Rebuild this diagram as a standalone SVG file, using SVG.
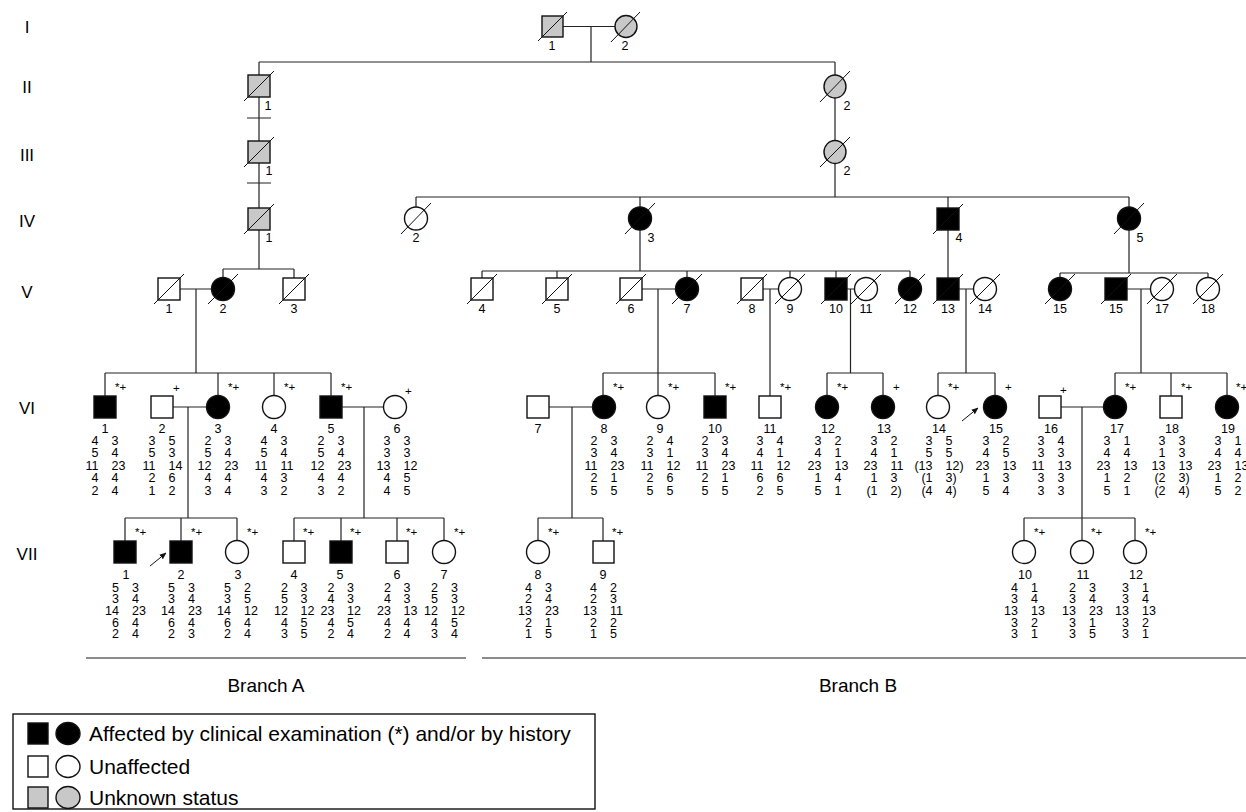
<svg xmlns="http://www.w3.org/2000/svg" width="1246" height="812" viewBox="0 0 1246 812">
<style>
.s{stroke:#111;stroke-width:1.4}
.w{fill:#fff}
.b{fill:#000}
.g{fill:#c8c8c8}
.c{stroke:#222;stroke-width:1.2;fill:none}
.d{stroke:#111;stroke-width:1}
.br{stroke:#666;stroke-width:1.4}
text{font-family:"Liberation Sans",Arial,Helvetica,sans-serif;fill:#000}
.lb{font-size:12.5px;text-anchor:middle}
.n{font-size:12.5px}
.L{text-anchor:end}
.m{font-size:11.5px}
.gen{font-size:17px;text-anchor:middle}
.leg{font-size:21px}
.bt{font-size:19px;text-anchor:middle}
</style>
<defs>
<marker id="ah" viewBox="0 0 10 10" refX="9" refY="5" markerWidth="7" markerHeight="7" orient="auto" markerUnits="userSpaceOnUse"><path d="M0,1 L10,5 L0,9 z" fill="#111"/></marker>
</defs>
<g id="generations">
<text class="gen" x="27" y="33">I</text>
<text class="gen" x="27" y="93">II</text>
<text class="gen" x="27" y="161">III</text>
<text class="gen" x="27" y="227">IV</text>
<text class="gen" x="27" y="298">V</text>
<text class="gen" x="27" y="414">VI</text>
<text class="gen" x="27" y="560">VII</text>
</g>
<g id="connectors">
<path class="c" d="M563,26.5H615M591,26.5V62M259,62H835M259,62V75M835,62V75"/>
<path class="c" d="M259,97V141M247,118H271M835,98V140.5"/>
<path class="c" d="M259,163V208M247,183H271M835,163.5V197M416,197H1129M416,197V207M640,197V207M948,197V208M1129,197V207"/>
<path class="c" d="M259,230V269M223,269H294M223,269V277.5M294,269V278"/>
<path class="c" d="M640,230V271M482,271H910M482,271V278M557,271V278M687,271V277.5M790,271V277.5M836,271V278M910,271V277.5"/>
<path class="c" d="M948,230V278M1129,230V273M1060,273H1208M1060,273V277.5M1208,273V277.5"/>
<path class="c" d="M180,289H211.5M196,289V373M105,373H331M105,373V396M218,373V395.5M274,373V395.5M331,373V396"/>
<path class="c" d="M642,289H675.5M658,289V395.5M603,373H715M603,373V395.5M715,373V396"/>
<path class="c" d="M763,289H778.5M770,289V396"/>
<path class="c" d="M847,289H854.5M850.5,289V373M827,373H883M827,373V395.5M883,373V395.5"/>
<path class="c" d="M959,289H973.5M966,289V373M938,373H995M938,373V395.5M995,373V395.5"/>
<path class="c" d="M1127,289H1150.5M1141,289V373M1115,373H1227M1115,373V395.5M1171,373V396M1227,373V395.5"/>
<path class="c" d="M173,407H206.5M188,407V518M125,518H237M125,518V541M181,518V541M237,518V540.5"/>
<path class="c" d="M342,407H383.5M364,407V518M294,518H444M294,518V541M341,518V541M397,518V541M444,518V540.5"/>
<path class="c" d="M549,407H592.5M572,407V518M538,518H603M538,518V540.5M603,518V541"/>
<path class="c" d="M1061,407H1103.5M1082,407V518M1024,518H1135M1024,518V540.5M1082,518V540.5M1135,518V540.5"/>
<line class="d" x1="150" y1="566" x2="166" y2="553" marker-end="url(#ah)"/>
<line class="d" x1="962" y1="421" x2="978" y2="408" marker-end="url(#ah)"/>
</g>
<g id="I-1"><rect class="s g" x="542" y="16" width="21" height="21"/><line class="d" x1="538" y1="41" x2="567" y2="12"/><text class="lb" x="552" y="49.5">1</text></g>
<g id="I-2"><ellipse class="s g" cx="626" cy="26.5" rx="11" ry="11"/><line class="d" x1="611" y1="42" x2="640" y2="12"/><text class="lb" x="625" y="49.5">2</text></g>
<g id="II-1"><rect class="s g" x="248" y="75" width="22" height="22"/><line class="d" x1="244" y1="101" x2="274" y2="71"/><text class="lb" x="268" y="109.5">1</text></g>
<g id="II-2"><ellipse class="s g" cx="835" cy="86.5" rx="11" ry="11.5"/><line class="d" x1="820" y1="102" x2="850" y2="71"/><text class="lb" x="847" y="109.5">2</text></g>
<g id="III-1"><rect class="s g" x="248" y="141" width="22" height="22"/><line class="d" x1="244" y1="167" x2="274" y2="137"/><text class="lb" x="269" y="174.5">1</text></g>
<g id="III-2"><ellipse class="s g" cx="835" cy="152" rx="11" ry="11.5"/><line class="d" x1="820" y1="167" x2="850" y2="137"/><text class="lb" x="847" y="174.5">2</text></g>
<g id="IV-1"><rect class="s g" x="248" y="208" width="22" height="22"/><line class="d" x1="244" y1="234" x2="274" y2="204"/><text class="lb" x="269" y="241.5">1</text></g>
<g id="IV-2"><ellipse class="s w" cx="416" cy="218.5" rx="11.5" ry="11.5"/><line class="d" x1="401" y1="234" x2="431" y2="203"/><text class="lb" x="416" y="241.5">2</text></g>
<g id="IV-3"><ellipse class="s b" cx="640" cy="218.5" rx="11.5" ry="11.5"/><line class="d" x1="625" y1="234" x2="655" y2="203"/><text class="lb" x="651" y="241.5">3</text></g>
<g id="IV-4"><rect class="s b" x="937" y="208" width="22" height="22"/><line class="d" x1="933" y1="234" x2="963" y2="204"/><text class="lb" x="959" y="241.5">4</text></g>
<g id="IV-5"><ellipse class="s b" cx="1129" cy="218.5" rx="11.5" ry="11.5"/><line class="d" x1="1114" y1="234" x2="1144" y2="203"/><text class="lb" x="1140" y="241.5">5</text></g>
<g id="V-1"><rect class="s w" x="158" y="278" width="22" height="22"/><line class="d" x1="154" y1="304" x2="184" y2="274"/><text class="lb" x="169" y="312.5">1</text></g>
<g id="V-2"><ellipse class="s b" cx="223" cy="289" rx="11.5" ry="11.5"/><line class="d" x1="208" y1="304" x2="238" y2="274"/><text class="lb" x="223" y="312.5">2</text></g>
<g id="V-3"><rect class="s w" x="283" y="278" width="22" height="22"/><line class="d" x1="279" y1="304" x2="309" y2="274"/><text class="lb" x="294" y="312.5">3</text></g>
<g id="V-4"><rect class="s w" x="471" y="278" width="22" height="22"/><line class="d" x1="467" y1="304" x2="497" y2="274"/><text class="lb" x="482" y="312.5">4</text></g>
<g id="V-5"><rect class="s w" x="546" y="278" width="22" height="22"/><line class="d" x1="542" y1="304" x2="572" y2="274"/><text class="lb" x="557" y="312.5">5</text></g>
<g id="V-6"><rect class="s w" x="620" y="278" width="22" height="22"/><line class="d" x1="616" y1="304" x2="646" y2="274"/><text class="lb" x="631" y="312.5">6</text></g>
<g id="V-7"><ellipse class="s b" cx="687" cy="289" rx="11.5" ry="11.5"/><line class="d" x1="672" y1="304" x2="702" y2="274"/><text class="lb" x="687" y="312.5">7</text></g>
<g id="V-8"><rect class="s w" x="741" y="278" width="22" height="22"/><line class="d" x1="737" y1="304" x2="767" y2="274"/><text class="lb" x="752" y="312.5">8</text></g>
<g id="V-9"><ellipse class="s w" cx="790" cy="289" rx="11.5" ry="11.5"/><line class="d" x1="775" y1="304" x2="805" y2="274"/><text class="lb" x="790" y="312.5">9</text></g>
<g id="V-10"><rect class="s b" x="825" y="278" width="22" height="22"/><line class="d" x1="821" y1="304" x2="851" y2="274"/><text class="lb" x="836" y="312.5">10</text></g>
<g id="V-11"><ellipse class="s w" cx="866" cy="289" rx="11.5" ry="11.5"/><line class="d" x1="851" y1="304" x2="881" y2="274"/><text class="lb" x="866" y="312.5">11</text></g>
<g id="V-12"><ellipse class="s b" cx="910" cy="289" rx="11.5" ry="11.5"/><line class="d" x1="895" y1="304" x2="925" y2="274"/><text class="lb" x="910" y="312.5">12</text></g>
<g id="V-13"><rect class="s b" x="937" y="278" width="22" height="22"/><line class="d" x1="933" y1="304" x2="963" y2="274"/><text class="lb" x="948" y="312.5">13</text></g>
<g id="V-14"><ellipse class="s w" cx="985" cy="289" rx="11.5" ry="11.5"/><line class="d" x1="970" y1="304" x2="1000" y2="274"/><text class="lb" x="985" y="312.5">14</text></g>
<g id="V-15a"><ellipse class="s b" cx="1060" cy="289" rx="11.5" ry="11.5"/><line class="d" x1="1045" y1="304" x2="1075" y2="274"/><text class="lb" x="1060" y="312.5">15</text></g>
<g id="V-15b"><rect class="s b" x="1105" y="278" width="22" height="22"/><line class="d" x1="1101" y1="304" x2="1131" y2="274"/><text class="lb" x="1116" y="312.5">15</text></g>
<g id="V-17"><ellipse class="s w" cx="1162" cy="289" rx="11.5" ry="11.5"/><line class="d" x1="1147" y1="304" x2="1177" y2="274"/><text class="lb" x="1162" y="312.5">17</text></g>
<g id="V-18"><ellipse class="s w" cx="1208" cy="289" rx="11.5" ry="11.5"/><line class="d" x1="1193" y1="304" x2="1223" y2="274"/><text class="lb" x="1208" y="312.5">18</text></g>
<g id="VI-1"><rect class="s b" x="94" y="396" width="22" height="22"/><text class="m" x="115" y="391">*+</text><text class="lb" x="105" y="432.5">1</text><text class="n L" y="444.5"><tspan x="98.5">4</tspan><tspan x="98.5" dy="12.5">5</tspan><tspan x="98.5" dy="12.5">11</tspan><tspan x="98.5" dy="12.5">4</tspan><tspan x="98.5" dy="12.5">2</tspan></text><text class="n" y="444.5"><tspan x="111.5">3</tspan><tspan x="111.5" dy="12.5">4</tspan><tspan x="111.5" dy="12.5">23</tspan><tspan x="111.5" dy="12.5">4</tspan><tspan x="111.5" dy="12.5">4</tspan></text></g>
<g id="VI-2"><rect class="s w" x="151" y="396" width="22" height="22"/><text class="m" x="173" y="392">+</text><text class="lb" x="162" y="432.5">2</text><text class="n L" y="444.5"><tspan x="155.5">3</tspan><tspan x="155.5" dy="12.5">5</tspan><tspan x="155.5" dy="12.5">11</tspan><tspan x="155.5" dy="12.5">2</tspan><tspan x="155.5" dy="12.5">1</tspan></text><text class="n" y="444.5"><tspan x="168.5">5</tspan><tspan x="168.5" dy="12.5">3</tspan><tspan x="168.5" dy="12.5">14</tspan><tspan x="168.5" dy="12.5">6</tspan><tspan x="168.5" dy="12.5">2</tspan></text></g>
<g id="VI-3"><ellipse class="s b" cx="218" cy="407" rx="11.5" ry="11.5"/><text class="m" x="228" y="391">*+</text><text class="lb" x="218" y="432.5">3</text><text class="n L" y="444.5"><tspan x="211.5">2</tspan><tspan x="211.5" dy="12.5">5</tspan><tspan x="211.5" dy="12.5">12</tspan><tspan x="211.5" dy="12.5">4</tspan><tspan x="211.5" dy="12.5">3</tspan></text><text class="n" y="444.5"><tspan x="224.5">3</tspan><tspan x="224.5" dy="12.5">4</tspan><tspan x="224.5" dy="12.5">23</tspan><tspan x="224.5" dy="12.5">4</tspan><tspan x="224.5" dy="12.5">4</tspan></text></g>
<g id="VI-4"><ellipse class="s w" cx="274" cy="407" rx="11.5" ry="11.5"/><text class="m" x="284" y="391">*+</text><text class="lb" x="274" y="432.5">4</text><text class="n L" y="444.5"><tspan x="267.5">4</tspan><tspan x="267.5" dy="12.5">5</tspan><tspan x="267.5" dy="12.5">11</tspan><tspan x="267.5" dy="12.5">4</tspan><tspan x="267.5" dy="12.5">3</tspan></text><text class="n" y="444.5"><tspan x="280.5">3</tspan><tspan x="280.5" dy="12.5">4</tspan><tspan x="280.5" dy="12.5">11</tspan><tspan x="280.5" dy="12.5">3</tspan><tspan x="280.5" dy="12.5">2</tspan></text></g>
<g id="VI-5"><rect class="s b" x="320" y="396" width="22" height="22"/><text class="m" x="341" y="391">*+</text><text class="lb" x="331" y="432.5">5</text><text class="n L" y="444.5"><tspan x="324.5">2</tspan><tspan x="324.5" dy="12.5">5</tspan><tspan x="324.5" dy="12.5">12</tspan><tspan x="324.5" dy="12.5">4</tspan><tspan x="324.5" dy="12.5">3</tspan></text><text class="n" y="444.5"><tspan x="337.5">3</tspan><tspan x="337.5" dy="12.5">4</tspan><tspan x="337.5" dy="12.5">23</tspan><tspan x="337.5" dy="12.5">4</tspan><tspan x="337.5" dy="12.5">2</tspan></text></g>
<g id="VI-6"><ellipse class="s w" cx="395" cy="407" rx="11.5" ry="11.5"/><text class="m" x="405" y="395">+</text><text class="lb" x="397" y="432.5">6</text><text class="n L" y="444.5"><tspan x="390.5">3</tspan><tspan x="390.5" dy="12.5">3</tspan><tspan x="390.5" dy="12.5">13</tspan><tspan x="390.5" dy="12.5">4</tspan><tspan x="390.5" dy="12.5">4</tspan></text><text class="n" y="444.5"><tspan x="403.5">3</tspan><tspan x="403.5" dy="12.5">3</tspan><tspan x="403.5" dy="12.5">12</tspan><tspan x="403.5" dy="12.5">5</tspan><tspan x="403.5" dy="12.5">5</tspan></text></g>
<g id="VI-7"><rect class="s w" x="527" y="396" width="22" height="22"/><text class="lb" x="538" y="432.5">7</text></g>
<g id="VI-8"><ellipse class="s b" cx="604" cy="407" rx="11.5" ry="11.5"/><text class="m" x="613" y="391">*+</text><text class="lb" x="604" y="432.5">8</text><text class="n L" y="444.5"><tspan x="597.5">2</tspan><tspan x="597.5" dy="12.5">3</tspan><tspan x="597.5" dy="12.5">11</tspan><tspan x="597.5" dy="12.5">2</tspan><tspan x="597.5" dy="12.5">5</tspan></text><text class="n" y="444.5"><tspan x="610.5">3</tspan><tspan x="610.5" dy="12.5">4</tspan><tspan x="610.5" dy="12.5">23</tspan><tspan x="610.5" dy="12.5">1</tspan><tspan x="610.5" dy="12.5">5</tspan></text></g>
<g id="VI-9"><ellipse class="s w" cx="658" cy="407" rx="11.5" ry="11.5"/><text class="m" x="668" y="391">*+</text><text class="lb" x="660" y="432.5">9</text><text class="n L" y="444.5"><tspan x="653.5">2</tspan><tspan x="653.5" dy="12.5">3</tspan><tspan x="653.5" dy="12.5">11</tspan><tspan x="653.5" dy="12.5">2</tspan><tspan x="653.5" dy="12.5">5</tspan></text><text class="n" y="444.5"><tspan x="666.5">4</tspan><tspan x="666.5" dy="12.5">1</tspan><tspan x="666.5" dy="12.5">12</tspan><tspan x="666.5" dy="12.5">6</tspan><tspan x="666.5" dy="12.5">5</tspan></text></g>
<g id="VI-10"><rect class="s b" x="704" y="396" width="22" height="22"/><text class="m" x="725" y="391">*+</text><text class="lb" x="715" y="432.5">10</text><text class="n L" y="444.5"><tspan x="708.5">2</tspan><tspan x="708.5" dy="12.5">3</tspan><tspan x="708.5" dy="12.5">11</tspan><tspan x="708.5" dy="12.5">2</tspan><tspan x="708.5" dy="12.5">5</tspan></text><text class="n" y="444.5"><tspan x="721.5">3</tspan><tspan x="721.5" dy="12.5">4</tspan><tspan x="721.5" dy="12.5">23</tspan><tspan x="721.5" dy="12.5">1</tspan><tspan x="721.5" dy="12.5">5</tspan></text></g>
<g id="VI-11"><rect class="s w" x="759" y="396" width="22" height="22"/><text class="m" x="780" y="391">*+</text><text class="lb" x="770" y="432.5">11</text><text class="n L" y="444.5"><tspan x="763.5">3</tspan><tspan x="763.5" dy="12.5">4</tspan><tspan x="763.5" dy="12.5">11</tspan><tspan x="763.5" dy="12.5">6</tspan><tspan x="763.5" dy="12.5">2</tspan></text><text class="n" y="444.5"><tspan x="776.5">4</tspan><tspan x="776.5" dy="12.5">1</tspan><tspan x="776.5" dy="12.5">12</tspan><tspan x="776.5" dy="12.5">6</tspan><tspan x="776.5" dy="12.5">5</tspan></text></g>
<g id="VI-12"><ellipse class="s b" cx="827" cy="407" rx="11.5" ry="11.5"/><text class="m" x="837" y="391">*+</text><text class="lb" x="828" y="432.5">12</text><text class="n L" y="444.5"><tspan x="821.5">3</tspan><tspan x="821.5" dy="12.5">4</tspan><tspan x="821.5" dy="12.5">23</tspan><tspan x="821.5" dy="12.5">1</tspan><tspan x="821.5" dy="12.5">5</tspan></text><text class="n" y="444.5"><tspan x="834.5">2</tspan><tspan x="834.5" dy="12.5">1</tspan><tspan x="834.5" dy="12.5">13</tspan><tspan x="834.5" dy="12.5">4</tspan><tspan x="834.5" dy="12.5">1</tspan></text></g>
<g id="VI-13"><ellipse class="s b" cx="883" cy="407" rx="11.5" ry="11.5"/><text class="m" x="893" y="391">+</text><text class="lb" x="884" y="432.5">13</text><text class="n L" y="444.5"><tspan x="877.5">3</tspan><tspan x="877.5" dy="12.5">4</tspan><tspan x="877.5" dy="12.5">23</tspan><tspan x="877.5" dy="12.5">1</tspan><tspan x="877.5" dy="12.5">(1</tspan></text><text class="n" y="444.5"><tspan x="890.5">2</tspan><tspan x="890.5" dy="12.5">1</tspan><tspan x="890.5" dy="12.5">11</tspan><tspan x="890.5" dy="12.5">3</tspan><tspan x="890.5" dy="12.5">2)</tspan></text></g>
<g id="VI-14"><ellipse class="s w" cx="938" cy="407" rx="11.5" ry="11.5"/><text class="m" x="948" y="391">*+</text><text class="lb" x="939" y="432.5">14</text><text class="n L" y="444.5"><tspan x="932.5">3</tspan><tspan x="932.5" dy="12.5">5</tspan><tspan x="932.5" dy="12.5">(13</tspan><tspan x="932.5" dy="12.5">(1</tspan><tspan x="932.5" dy="12.5">(4</tspan></text><text class="n" y="444.5"><tspan x="945.5">5</tspan><tspan x="945.5" dy="12.5">5</tspan><tspan x="945.5" dy="12.5">12)</tspan><tspan x="945.5" dy="12.5">3)</tspan><tspan x="945.5" dy="12.5">4)</tspan></text></g>
<g id="VI-15"><ellipse class="s b" cx="995" cy="407" rx="11.5" ry="11.5"/><text class="m" x="1005" y="391">+</text><text class="lb" x="996" y="432.5">15</text><text class="n L" y="444.5"><tspan x="989.5">3</tspan><tspan x="989.5" dy="12.5">4</tspan><tspan x="989.5" dy="12.5">23</tspan><tspan x="989.5" dy="12.5">1</tspan><tspan x="989.5" dy="12.5">5</tspan></text><text class="n" y="444.5"><tspan x="1002.5">2</tspan><tspan x="1002.5" dy="12.5">5</tspan><tspan x="1002.5" dy="12.5">13</tspan><tspan x="1002.5" dy="12.5">3</tspan><tspan x="1002.5" dy="12.5">4</tspan></text></g>
<g id="VI-16"><rect class="s w" x="1039" y="396" width="22" height="22"/><text class="m" x="1060" y="394">+</text><text class="lb" x="1051" y="432.5">16</text><text class="n L" y="444.5"><tspan x="1044.5">3</tspan><tspan x="1044.5" dy="12.5">3</tspan><tspan x="1044.5" dy="12.5">11</tspan><tspan x="1044.5" dy="12.5">3</tspan><tspan x="1044.5" dy="12.5">3</tspan></text><text class="n" y="444.5"><tspan x="1057.5">4</tspan><tspan x="1057.5" dy="12.5">3</tspan><tspan x="1057.5" dy="12.5">13</tspan><tspan x="1057.5" dy="12.5">3</tspan><tspan x="1057.5" dy="12.5">3</tspan></text></g>
<g id="VI-17"><ellipse class="s b" cx="1115" cy="407" rx="11.5" ry="11.5"/><text class="m" x="1125" y="391">*+</text><text class="lb" x="1117" y="432.5">17</text><text class="n L" y="444.5"><tspan x="1110.5">3</tspan><tspan x="1110.5" dy="12.5">4</tspan><tspan x="1110.5" dy="12.5">23</tspan><tspan x="1110.5" dy="12.5">1</tspan><tspan x="1110.5" dy="12.5">5</tspan></text><text class="n" y="444.5"><tspan x="1123.5">1</tspan><tspan x="1123.5" dy="12.5">4</tspan><tspan x="1123.5" dy="12.5">13</tspan><tspan x="1123.5" dy="12.5">2</tspan><tspan x="1123.5" dy="12.5">1</tspan></text></g>
<g id="VI-18"><rect class="s w" x="1160" y="396" width="22" height="22"/><text class="m" x="1181" y="391">*+</text><text class="lb" x="1172" y="432.5">18</text><text class="n L" y="444.5"><tspan x="1165.5">3</tspan><tspan x="1165.5" dy="12.5">1</tspan><tspan x="1165.5" dy="12.5">13</tspan><tspan x="1165.5" dy="12.5">(2</tspan><tspan x="1165.5" dy="12.5">(2</tspan></text><text class="n" y="444.5"><tspan x="1178.5">3</tspan><tspan x="1178.5" dy="12.5">3</tspan><tspan x="1178.5" dy="12.5">13</tspan><tspan x="1178.5" dy="12.5">3)</tspan><tspan x="1178.5" dy="12.5">4)</tspan></text></g>
<g id="VI-19"><ellipse class="s b" cx="1227" cy="407" rx="11.5" ry="11.5"/><text class="m" x="1236" y="391">*+</text><text class="lb" x="1228" y="432.5">19</text><text class="n L" y="444.5"><tspan x="1221.5">3</tspan><tspan x="1221.5" dy="12.5">4</tspan><tspan x="1221.5" dy="12.5">23</tspan><tspan x="1221.5" dy="12.5">1</tspan><tspan x="1221.5" dy="12.5">5</tspan></text><text class="n" y="444.5"><tspan x="1234.5">1</tspan><tspan x="1234.5" dy="12.5">4</tspan><tspan x="1234.5" dy="12.5">13</tspan><tspan x="1234.5" dy="12.5">2</tspan><tspan x="1234.5" dy="12.5">2</tspan></text></g>
<g id="VII-1"><rect class="s b" x="114" y="541" width="22" height="22"/><text class="m" x="135" y="536">*+</text><text class="lb" x="126" y="578.5">1</text><text class="n L" y="591.5"><tspan x="119">5</tspan><tspan x="119" dy="11.7">3</tspan><tspan x="119" dy="11.7">14</tspan><tspan x="119" dy="11.7">6</tspan><tspan x="119" dy="11.7">2</tspan></text><text class="n" y="591.5"><tspan x="132">3</tspan><tspan x="132" dy="11.7">4</tspan><tspan x="132" dy="11.7">23</tspan><tspan x="132" dy="11.7">4</tspan><tspan x="132" dy="11.7">4</tspan></text></g>
<g id="VII-2"><rect class="s b" x="170" y="541" width="22" height="22"/><text class="m" x="191" y="536">*+</text><text class="lb" x="181" y="578.5">2</text><text class="n L" y="591.5"><tspan x="175">5</tspan><tspan x="175" dy="11.7">3</tspan><tspan x="175" dy="11.7">14</tspan><tspan x="175" dy="11.7">6</tspan><tspan x="175" dy="11.7">2</tspan></text><text class="n" y="591.5"><tspan x="188">3</tspan><tspan x="188" dy="11.7">4</tspan><tspan x="188" dy="11.7">23</tspan><tspan x="188" dy="11.7">4</tspan><tspan x="188" dy="11.7">3</tspan></text></g>
<g id="VII-3"><ellipse class="s w" cx="237" cy="552" rx="11.5" ry="11.5"/><text class="m" x="247" y="536">*+</text><text class="lb" x="238" y="578.5">3</text><text class="n L" y="591.5"><tspan x="231">5</tspan><tspan x="231" dy="11.7">3</tspan><tspan x="231" dy="11.7">14</tspan><tspan x="231" dy="11.7">6</tspan><tspan x="231" dy="11.7">2</tspan></text><text class="n" y="591.5"><tspan x="244">2</tspan><tspan x="244" dy="11.7">5</tspan><tspan x="244" dy="11.7">12</tspan><tspan x="244" dy="11.7">4</tspan><tspan x="244" dy="11.7">4</tspan></text></g>
<g id="VII-4"><rect class="s w" x="283" y="541" width="22" height="22"/><text class="m" x="303" y="536">*+</text><text class="lb" x="294" y="578.5">4</text><text class="n L" y="591.5"><tspan x="288">2</tspan><tspan x="288" dy="11.7">5</tspan><tspan x="288" dy="11.7">12</tspan><tspan x="288" dy="11.7">4</tspan><tspan x="288" dy="11.7">3</tspan></text><text class="n" y="591.5"><tspan x="300.5">3</tspan><tspan x="300.5" dy="11.7">3</tspan><tspan x="300.5" dy="11.7">12</tspan><tspan x="300.5" dy="11.7">5</tspan><tspan x="300.5" dy="11.7">5</tspan></text></g>
<g id="VII-5"><rect class="s b" x="330" y="541" width="22" height="22"/><text class="m" x="350" y="536">*+</text><text class="lb" x="340" y="578.5">5</text><text class="n L" y="591.5"><tspan x="334.5">2</tspan><tspan x="334.5" dy="11.7">4</tspan><tspan x="334.5" dy="11.7">23</tspan><tspan x="334.5" dy="11.7">4</tspan><tspan x="334.5" dy="11.7">2</tspan></text><text class="n" y="591.5"><tspan x="347">3</tspan><tspan x="347" dy="11.7">3</tspan><tspan x="347" dy="11.7">12</tspan><tspan x="347" dy="11.7">5</tspan><tspan x="347" dy="11.7">4</tspan></text></g>
<g id="VII-6"><rect class="s w" x="386" y="541" width="22" height="22"/><text class="m" x="406" y="536">*+</text><text class="lb" x="397" y="578.5">6</text><text class="n L" y="591.5"><tspan x="391">2</tspan><tspan x="391" dy="11.7">4</tspan><tspan x="391" dy="11.7">23</tspan><tspan x="391" dy="11.7">4</tspan><tspan x="391" dy="11.7">2</tspan></text><text class="n" y="591.5"><tspan x="403.5">3</tspan><tspan x="403.5" dy="11.7">3</tspan><tspan x="403.5" dy="11.7">13</tspan><tspan x="403.5" dy="11.7">4</tspan><tspan x="403.5" dy="11.7">4</tspan></text></g>
<g id="VII-7"><ellipse class="s w" cx="444" cy="552" rx="11.5" ry="11.5"/><text class="m" x="454" y="536">*+</text><text class="lb" x="444" y="578.5">7</text><text class="n L" y="591.5"><tspan x="438">2</tspan><tspan x="438" dy="11.7">5</tspan><tspan x="438" dy="11.7">12</tspan><tspan x="438" dy="11.7">4</tspan><tspan x="438" dy="11.7">3</tspan></text><text class="n" y="591.5"><tspan x="451">3</tspan><tspan x="451" dy="11.7">3</tspan><tspan x="451" dy="11.7">12</tspan><tspan x="451" dy="11.7">5</tspan><tspan x="451" dy="11.7">4</tspan></text></g>
<g id="VII-8"><ellipse class="s w" cx="538" cy="552" rx="11.5" ry="11.5"/><text class="m" x="548" y="536">*+</text><text class="lb" x="538" y="578.5">8</text><text class="n L" y="591.5"><tspan x="532">4</tspan><tspan x="532" dy="11.7">2</tspan><tspan x="532" dy="11.7">13</tspan><tspan x="532" dy="11.7">2</tspan><tspan x="532" dy="11.7">1</tspan></text><text class="n" y="591.5"><tspan x="545">3</tspan><tspan x="545" dy="11.7">4</tspan><tspan x="545" dy="11.7">23</tspan><tspan x="545" dy="11.7">1</tspan><tspan x="545" dy="11.7">5</tspan></text></g>
<g id="VII-9"><rect class="s w" x="593" y="541" width="21" height="22"/><text class="m" x="612" y="536">*+</text><text class="lb" x="603" y="578.5">9</text><text class="n L" y="591.5"><tspan x="597">4</tspan><tspan x="597" dy="11.7">2</tspan><tspan x="597" dy="11.7">13</tspan><tspan x="597" dy="11.7">2</tspan><tspan x="597" dy="11.7">1</tspan></text><text class="n" y="591.5"><tspan x="610">2</tspan><tspan x="610" dy="11.7">3</tspan><tspan x="610" dy="11.7">11</tspan><tspan x="610" dy="11.7">2</tspan><tspan x="610" dy="11.7">5</tspan></text></g>
<g id="VII-10"><ellipse class="s w" cx="1024" cy="552" rx="11.5" ry="11.5"/><text class="m" x="1034" y="536">*+</text><text class="lb" x="1025" y="578.5">10</text><text class="n L" y="591.5"><tspan x="1018">4</tspan><tspan x="1018" dy="11.7">3</tspan><tspan x="1018" dy="11.7">13</tspan><tspan x="1018" dy="11.7">3</tspan><tspan x="1018" dy="11.7">3</tspan></text><text class="n" y="591.5"><tspan x="1031">1</tspan><tspan x="1031" dy="11.7">4</tspan><tspan x="1031" dy="11.7">13</tspan><tspan x="1031" dy="11.7">2</tspan><tspan x="1031" dy="11.7">1</tspan></text></g>
<g id="VII-11"><ellipse class="s w" cx="1082" cy="552" rx="11.5" ry="11.5"/><text class="m" x="1091" y="536">*+</text><text class="lb" x="1083" y="578.5">11</text><text class="n L" y="591.5"><tspan x="1076">2</tspan><tspan x="1076" dy="11.7">3</tspan><tspan x="1076" dy="11.7">13</tspan><tspan x="1076" dy="11.7">3</tspan><tspan x="1076" dy="11.7">3</tspan></text><text class="n" y="591.5"><tspan x="1089">3</tspan><tspan x="1089" dy="11.7">4</tspan><tspan x="1089" dy="11.7">23</tspan><tspan x="1089" dy="11.7">1</tspan><tspan x="1089" dy="11.7">5</tspan></text></g>
<g id="VII-12"><ellipse class="s w" cx="1135" cy="552" rx="11.5" ry="11.5"/><text class="m" x="1145" y="536">*+</text><text class="lb" x="1136" y="578.5">12</text><text class="n L" y="591.5"><tspan x="1129">3</tspan><tspan x="1129" dy="11.7">3</tspan><tspan x="1129" dy="11.7">13</tspan><tspan x="1129" dy="11.7">3</tspan><tspan x="1129" dy="11.7">3</tspan></text><text class="n" y="591.5"><tspan x="1142">1</tspan><tspan x="1142" dy="11.7">4</tspan><tspan x="1142" dy="11.7">13</tspan><tspan x="1142" dy="11.7">2</tspan><tspan x="1142" dy="11.7">1</tspan></text></g>
<g id="branches">
<line class="br" x1="86" y1="658" x2="466" y2="658"/>
<line class="br" x1="482" y1="658" x2="1246" y2="658"/>
<text class="bt" x="266" y="692">Branch A</text>
<text class="bt" x="858" y="692">Branch B</text>
</g>
<g id="legend">
<rect x="13" y="714" width="582" height="95" fill="#fff" stroke="#111" stroke-width="1.4"/>
<rect class="s b" x="28" y="723" width="20" height="21"/><ellipse class="s b" cx="68" cy="733.5" rx="12" ry="11"/>
<text class="leg" x="89" y="741">Affected by clinical examination (*) and/or by history</text>
<rect class="s w" x="28" y="756" width="20" height="21"/><ellipse class="s w" cx="68" cy="766.5" rx="12" ry="11"/>
<text class="leg" x="89" y="774">Unaffected</text>
<rect class="s g" x="28" y="787" width="20" height="21"/><ellipse class="s g" cx="68" cy="797.5" rx="12" ry="11"/>
<text class="leg" x="89" y="805">Unknown status</text>
</g>
</svg>
